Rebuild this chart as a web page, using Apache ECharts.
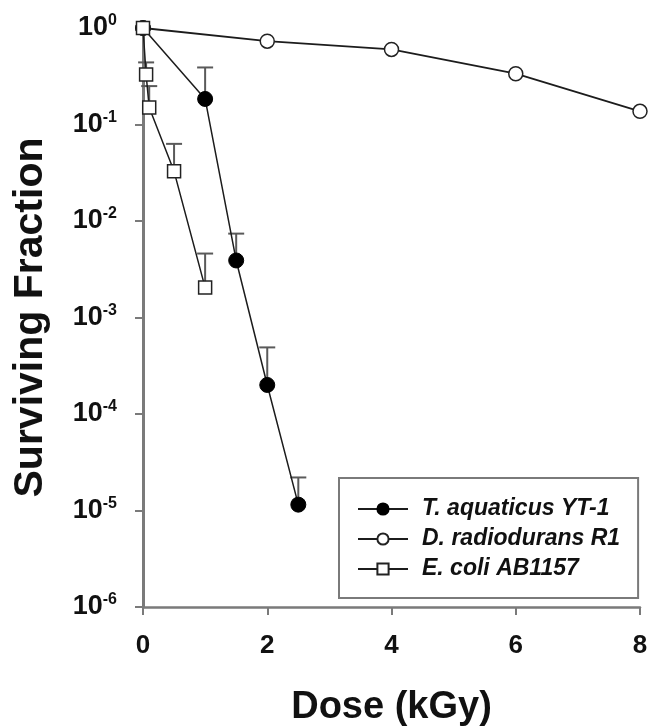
<!DOCTYPE html>
<html>
<head>
<meta charset="utf-8">
<script src="https://cdn.jsdelivr.net/npm/echarts@6/dist/echarts.min.js"></script>
<style>
  html, body { margin: 0; padding: 0; background: #fff; }
  #main { width: 650px; height: 727px; }
</style>
</head>
<body>
<div id="main"></div>
<script>
// survival curves
const dosesTaq = [0, 1, 1.5, 2, 2.5];
const survTaq = [1, 0.184, 0.0039, 0.0002, 0.0000115];
const errTaq = [null, 0.39, 0.0074, 0.00049, 0.000022];

const dosesDrad = [0, 2, 4, 6, 8];
const survDrad = [1, 0.73, 0.6, 0.336, 0.137];

const dosesEco = [0, 0.05, 0.1, 0.5, 1];
const survEco = [1, 0.33, 0.15, 0.0327, 0.00204];
const errEco = [null, 0.44, 0.25, 0.063, 0.0046];

const seriesNames = ['T. aquaticus YT-1', 'D. radiodurans R1', 'E. coli AB1157'];

const FONT = '"Liberation Sans", Arial, sans-serif';
const AXIS_GRAY = '#7a7a7a';
const LINE_COLOR = '#1c1c1c';

function pairs(xs, ys) {
    return xs.map((x, i) => [x, ys[i]]);
}

function errData(xs, ys, ups) {
    let out = [];
    xs.forEach((x, i) => {
        if (ups[i] != null) out.push([x, ys[i], ups[i]]);
    });
    return out;
}

// upper error bar with a cap
function renderErr(params, api) {
    const p0 = api.coord([api.value(0), api.value(1)]);
    const p1 = api.coord([api.value(0), api.value(2)]);
    const st = { stroke: '#5a5a5a', lineWidth: 2 };
    return {
        type: 'group',
        children: [
            { type: 'line', shape: { x1: p0[0], y1: p0[1], x2: p1[0], y2: p1[1] }, style: st },
            { type: 'line', shape: { x1: p1[0] - 8, y1: p1[1], x2: p1[0] + 8, y2: p1[1] }, style: st }
        ]
    };
}

const chart = echarts.init(document.getElementById('main'));

chart.setOption({
    animation: false,
    backgroundColor: '#fff',
    grid: { left: 143, right: 10, top: 28, bottom: 120, outerBoundsMode: 'none', containLabel: false },
    xAxis: {
        type: 'value',
        min: 0, max: 8, interval: 2,
        name: 'Dose (kGy)',
        nameLocation: 'middle',
        nameGap: 82,
        nameTextStyle: { fontFamily: FONT, fontWeight: 'bold', fontSize: 38, color: '#111' },
        axisLine: { lineStyle: { color: AXIS_GRAY, width: 2.5 } },
        axisTick: { show: true, inside: false, length: 8, lineStyle: { color: AXIS_GRAY, width: 2 } },
        axisLabel: { margin: 26, fontFamily: FONT, fontWeight: 'bold', fontSize: 26, color: '#111' },
        splitLine: { show: false }
    },
    yAxis: {
        type: 'log',
        logBase: 10,
        min: 1e-6, max: 1,
        name: 'Surviving Fraction',
        nameLocation: 'middle',
        nameGap: 92,
        nameRotate: 90,
        nameTextStyle: { fontFamily: FONT, fontWeight: 'bold', fontSize: 41, color: '#111' },
        axisLine: { show: true, lineStyle: { color: AXIS_GRAY, width: 3 } },
        axisTick: { show: true, inside: false, length: 8, lineStyle: { color: AXIS_GRAY, width: 2 } },
        axisLabel: {
            margin: 26,
            formatter: function (v) {
                const e = Math.round(Math.log10(v));
                return '{b|10}{s|' + (e < 0 ? '-' + (-e) : e) + '}';
            },
            rich: {
                b: { fontFamily: FONT, fontWeight: 'bold', fontSize: 27, color: '#111', lineHeight: 30 },
                s: { fontFamily: FONT, fontWeight: 'bold', fontSize: 16, color: '#111', verticalAlign: 'top', lineHeight: 14 }
            }
        },
        splitLine: { show: false },
        minorTick: { show: false }
    },
    legend: {
        data: seriesNames,
        orient: 'vertical',
        left: 339,
        top: 478,
        padding: [19, 18, 17, 18],
        itemGap: 6,
        itemWidth: 50,
        itemHeight: 14,
        borderColor: AXIS_GRAY,
        borderWidth: 2,
        textStyle: {
            fontFamily: FONT, fontWeight: 'bold', fontStyle: 'italic',
            fontSize: 23, color: '#111', lineHeight: 24, padding: [0, 0, 0, 9]
        }
    },
    series: [
        {
            name: 'errTaq',
            type: 'custom',
            renderItem: renderErr,
            data: errData(dosesTaq, survTaq, errTaq),
            z: 1,
            silent: true
        },
        {
            name: 'errEco',
            type: 'custom',
            renderItem: renderErr,
            data: errData(dosesEco, survEco, errEco),
            z: 1,
            silent: true
        },
        {
            name: seriesNames[0],
            type: 'line',
            data: pairs(dosesTaq, survTaq),
            symbol: 'circle',
            symbolSize: 15,
            lineStyle: { color: LINE_COLOR, width: 1.5 },
            itemStyle: { color: '#000', borderColor: '#000', borderWidth: 1 },
            z: 3
        },
        {
            name: seriesNames[1],
            type: 'line',
            data: pairs(dosesDrad, survDrad),
            symbol: 'circle',
            symbolSize: 14,
            lineStyle: { color: LINE_COLOR, width: 1.8 },
            itemStyle: { color: '#fff', borderColor: '#222', borderWidth: 1.5 },
            z: 3
        },
        {
            name: seriesNames[2],
            type: 'line',
            data: pairs(dosesEco, survEco),
            symbol: 'rect',
            symbolSize: 13,
            lineStyle: { color: LINE_COLOR, width: 1.5 },
            itemStyle: { color: '#fff', borderColor: '#222', borderWidth: 1.5 },
            z: 4
        }
    ]
});
</script>
</body>
</html>
